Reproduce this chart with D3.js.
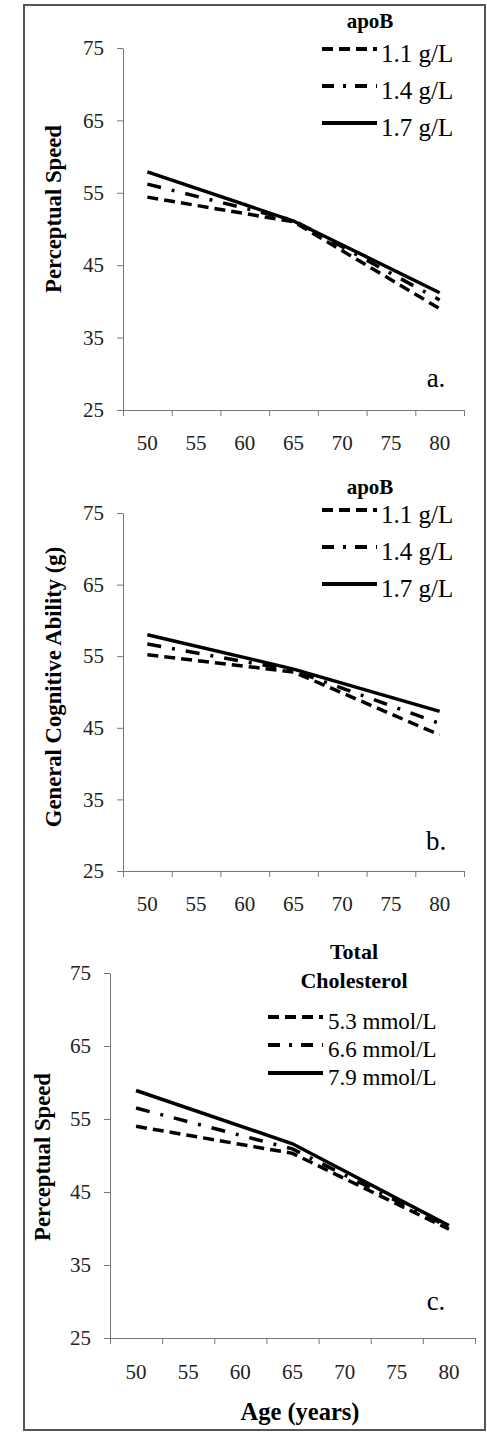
<!DOCTYPE html>
<html lang="en">
<head>
<meta charset="utf-8">
<title>Age trends by apoB and cholesterol</title>
<script src="https://cdn.jsdelivr.net/npm/d3@7"></script>
<style>
  body { margin: 0; background: #fff; }
  svg { display: block; }
  .axis path, .axis line { stroke: #777; stroke-width: 1; }
  .axis text { fill: #222; }
</style>
</head>
<body>
<script>
// categories on the x axis (age in years)
var ages = ["50", "55", "60", "65", "70", "75", "80"];
var yTicks = [25, 35, 45, 55, 65, 75];
// ages where the model lines are evaluated
var pointAges = ["50", "65", "80"];

var apoBLevels = ["1.1 g/L", "1.4 g/L", "1.7 g/L"];
var cholLevels = ["5.3 mmol/L", "6.6 mmol/L", "7.9 mmol/L"];

// panel a: perceptual speed by apoB
var speedApoB = [
  [54.4, 51.0, 39.0],
  [56.2, 51.2, 40.2],
  [57.9, 51.1, 41.2]
];
// panel b: general cognitive ability by apoB
var gApoB = [
  [55.2, 52.8, 44.0],
  [56.7, 53.0, 45.6],
  [58.0, 53.2, 47.3]
];
// panel c: perceptual speed by total cholesterol
var speedChol = [
  [54.0, 50.3, 39.9],
  [56.5, 50.9, 40.2],
  [58.9, 51.6, 40.4]
];

var w = 487, h = 1432;
var serif = "'Liberation Serif', 'Times New Roman', Times, serif";
var dashes = ["11,6", "14,11,3,11", null];

var svg = d3.select("body").append("svg")
  .attr("width", w).attr("height", h)
  .attr("font-family", serif);

// outer frame
svg.append("rect")
  .attr("x", 24).attr("y", 5).attr("width", 461).attr("height", 1425)
  .attr("fill", "none").attr("stroke", "#555").attr("stroke-width", 2);

function drawPanel(p) {
  var x = d3.scaleBand().domain(ages).range([p.x0, p.x1]);
  var xEdge = d3.scaleLinear().domain([0, ages.length]).range([p.x0, p.x1]);
  var y = d3.scaleLinear().domain([25, 75]).range([p.y0, p.y1]);

  // y axis
  svg.append("g").attr("class", "axis")
    .attr("transform", "translate(" + p.x0 + ",0)")
    .call(d3.axisLeft(y).tickValues(yTicks).tickSize(6).tickSizeOuter(0).tickPadding(13))
    .attr("font-family", serif).attr("font-size", 21);

  // x axis: tick marks between categories, labels at centres
  svg.append("g").attr("class", "axis")
    .attr("transform", "translate(0," + p.y0 + ")")
    .call(d3.axisBottom(xEdge).tickValues(d3.range(ages.length + 1)).tickFormat("").tickSize(6).tickSizeOuter(0));
  var xl = svg.append("g").attr("class", "axis")
    .attr("transform", "translate(0," + p.y0 + ")")
    .call(d3.axisBottom(x).tickSize(0).tickPadding(p.xPad))
    .attr("font-family", serif).attr("font-size", 21);
  xl.select(".domain").remove();

  // lines
  var line = d3.line()
    .x(function(d, i) { return x(pointAges[i]) + x.bandwidth() / 2; })
    .y(function(d) { return y(d); });
  p.series.forEach(function(s, i) {
    svg.append("path").datum(s)
      .attr("d", line)
      .attr("fill", "none").attr("stroke", "#000")
      .attr("stroke-width", 3.5)
      .attr("stroke-dasharray", dashes[i]);
  });

  // y label
  svg.append("text")
    .attr("transform", "translate(" + p.yLabelX + "," + p.yLabelY + ") rotate(-90)")
    .attr("text-anchor", "middle").attr("dominant-baseline", "central")
    .attr("font-weight", "bold").attr("font-size", 22.7)
    .text(p.yLabel);

  // panel letter
  svg.append("text")
    .attr("x", 436).attr("y", p.letterY)
    .attr("text-anchor", "middle").attr("font-size", 27)
    .text(p.letter);

  // legend
  p.title.forEach(function(t, i) {
    svg.append("text")
      .attr("x", p.titleX).attr("y", p.titleY + i * 29)
      .attr("text-anchor", "middle").attr("font-weight", "bold").attr("font-size", p.titleFont)
      .text(t);
  });
  p.levels.forEach(function(lab, i) {
    var ly = p.legY + i * p.legStep;
    svg.append("line")
      .attr("x1", p.legX0).attr("x2", p.legX0 + 55)
      .attr("y1", ly - 4).attr("y2", ly - 4)
      .attr("stroke", "#000").attr("stroke-width", 4)
      .attr("stroke-dasharray", i === 1 ? "12,9,3,9" : dashes[i]);
    svg.append("text")
      .attr("x", p.legX0 + p.textGap).attr("y", ly)
      .attr("dominant-baseline", "central").attr("font-size", p.legFont)
      .text(lab);
  });
}

drawPanel({
  x0: 123, x1: 464, y0: 410, y1: 48, xPad: 25,
  series: speedApoB, levels: apoBLevels, title: ["apoB"], titleFont: 21,
  titleX: 370, titleY: 28, legX0: 322, legY: 53, legStep: 37, legFont: 25, textGap: 59,
  yLabel: "Perceptual Speed", yLabelX: 53, yLabelY: 209,
  letter: "a.", letterY: 387
});

drawPanel({
  x0: 123, x1: 464, y0: 871, y1: 513, xPad: 25,
  series: gApoB, levels: apoBLevels, title: ["apoB"], titleFont: 21,
  titleX: 370, titleY: 494, legX0: 322, legY: 514, legStep: 37, legFont: 25, textGap: 59,
  yLabel: "General Cognitive Ability (g)", yLabelX: 53, yLabelY: 687,
  letter: "b.", letterY: 850
});

drawPanel({
  x0: 110, x1: 475, y0: 1338, y1: 973, xPad: 26,
  series: speedChol, levels: cholLevels, title: ["Total", "Cholesterol"], titleFont: 22,
  titleX: 354, titleY: 959, legX0: 268, legY: 1021, legStep: 28, legFont: 23, textGap: 60,
  yLabel: "Perceptual Speed", yLabelX: 42, yLabelY: 1157,
  letter: "c.", letterY: 1310
});

// shared x label at the bottom
svg.append("text")
  .attr("x", 300).attr("y", 1420)
  .attr("text-anchor", "middle").attr("font-weight", "bold").attr("font-size", 24.5)
  .text("Age (years)");
</script>
</body>
</html>
